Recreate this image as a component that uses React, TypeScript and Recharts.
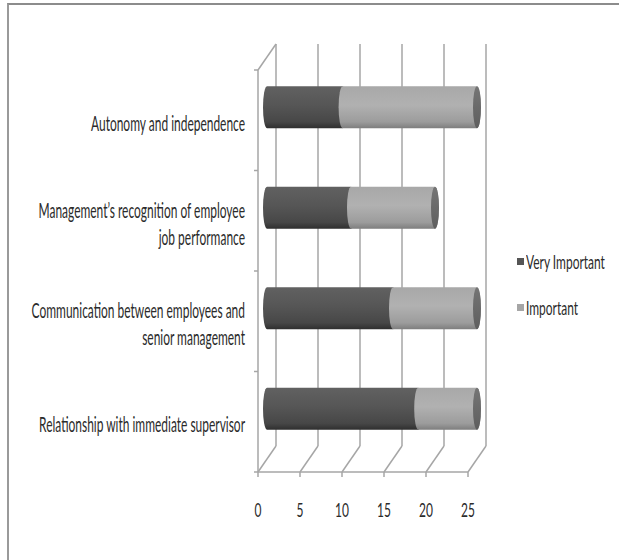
import React from "react";
import { BarChart, Bar, XAxis, YAxis, CartesianGrid } from "recharts";

// Survey categories (line breaks mark where the axis label wraps)
const categories = [
  "Autonomy and independence",
  "Management’s recognition of employee\njob performance",
  "Communication between employees and\nsenior management",
  "Relationship with immediate supervisor",
];
const veryImportant = [9, 10, 15, 18];
const important = [16, 10, 10, 7];
const xTicks = [0, 5, 10, 15, 20, 25];
const seriesNames = ["Very Important", "Important"];

const data = categories.map((name, i) => ({
  name,
  very: veryImportant[i],
  important: important[i],
}));

// 3D look: depth of the back wall, bars sit half way
const DX = 18;
const DY = -26;
const FONT = "Lato, 'Open Sans', sans-serif";
const SQUEEZE = 0.63;
const GRID = "#a6a6a6";
const TEXT = "#2b2b2b";

const SqueezedText = ({ x, y, anchor, size = 19, squeeze = SQUEEZE, children }: any) => (
  <text
    transform={`translate(${x},${y}) scale(${squeeze},1)`}
    x={0}
    y={0}
    textAnchor={anchor}
    dominantBaseline="central"
    fontFamily={FONT}
    fontSize={size}
    fill={TEXT}
  >
    {children}
  </text>
);

const CategoryTick = (props: any) => {
  const { y, payload, index } = props;
  const half = payload.offset ?? 0;
  const lines = String(payload.value).split("\n");
  const lineH = 27;
  const cy = y + 2.5;
  const axisX = props.x + 8;
  return (
    <g>
      {lines.map((ln, i) => (
        <SqueezedText
          key={i}
          x={245}
          y={cy + (i - (lines.length - 1) / 2) * lineH}
          anchor="end"
          size={21}
          squeeze={0.57}
        >
          {ln}
        </SqueezedText>
      ))}
      <line x1={axisX - 4} x2={axisX} y1={y - half} y2={y - half} stroke={GRID} strokeWidth={1.5} />
      {index === categories.length - 1 && (
        <line x1={axisX - 4} x2={axisX} y1={y + half} y2={y + half} stroke={GRID} strokeWidth={1.5} />
      )}
    </g>
  );
};

const ValueTick = (props: any) => {
  const { x, y, payload } = props;
  return (
    <SqueezedText x={x} y={y + 30} anchor="middle">
      {payload.value}
    </SqueezedText>
  );
};

// back wall verticals plus the floor slants; the first one also closes the left wall top
const WallLine = (props: any) => {
  const { x1, y1, y2, index } = props;
  return (
    <g key={`wall-${index}`}>
      <line x1={x1 + DX} x2={x1 + DX} y1={y1 + DY} y2={y2 + DY} stroke={GRID} strokeWidth={1.5} />
      <line x1={x1} x2={x1 + DX} y1={y2} y2={y2 + DY} stroke={GRID} strokeWidth={1.5} />
      {index === 0 && (
        <line x1={x1} x2={x1 + DX} y1={y1} y2={y1 + DY} stroke={GRID} strokeWidth={1.5} />
      )}
    </g>
  );
};

const palette = {
  very: { stops: ["#616161", "#565656", "#474747", "#2f2f2f"], cap: "#3c3c3c" },
  important: { stops: ["#a8a8a8", "#b1b1b1", "#9c9c9c", "#7e7e7e"], cap: "#757575" },
};

const makeCylinder = (key: "very" | "important", withCap: boolean) => (props: any) => {
  const { x, y, width, height, index } = props;
  if (!width || width <= 0) return <g />;
  const bx = x + DX / 2;
  const by = y + DY / 2;
  const rx = 4;
  const ry = height / 2;
  const id = `grad-${key}-${index}`;
  const capId = `cap-${key}-${index}`;
  const c = palette[key];
  const d = `M${bx},${by} L${bx + width},${by} A${rx},${ry} 0 0 1 ${bx + width},${by + height} L${bx},${by + height} A${rx},${ry} 0 0 1 ${bx},${by} Z`;
  return (
    <g>
      <defs>
        <linearGradient id={id} x1="0" y1="0" x2="0" y2="1">
          <stop offset="0" stopColor={c.stops[0]} />
          <stop offset="0.45" stopColor={c.stops[1]} />
          <stop offset="0.85" stopColor={c.stops[2]} />
          <stop offset="1" stopColor={c.stops[3]} />
        </linearGradient>
        <linearGradient id={capId} x1="0" y1="0" x2="0" y2="1">
          <stop offset="0" stopColor={c.cap} />
          <stop offset="1" stopColor="#5e5e5e" />
        </linearGradient>
      </defs>
      <path d={d} fill={`url(#${id})`} />
      {withCap && (
        <ellipse cx={bx + width} cy={by + ry} rx={rx} ry={ry} fill={`url(#${capId})`} />
      )}
    </g>
  );
};

const legendColors = ["#555555", "#a6a6a6"];

const ChartLegend = () => (
  <div style={{ position: "absolute", left: 517, top: 238, fontFamily: FONT, fontSize: 19, color: TEXT }}>
    {seriesNames.map((n, i) => (
      <div key={n} style={{ display: "flex", alignItems: "center", height: 46 }}>
        <span
          style={{
            width: 7,
            height: 7,
            flexShrink: 0,
            background: legendColors[i],
            display: "inline-block",
            marginRight: 2,
          }}
        />
        <span
          style={{
            display: "inline-block",
            transform: `scaleX(${SQUEEZE})`,
            transformOrigin: "left center",
            whiteSpace: "nowrap",
          }}
        >
          {n}
        </span>
      </div>
    ))}
  </div>
);

export default function App() {
  return (
    <div style={{ position: "absolute", left: 0, top: 0, width: 619, height: 560, background: "#fff" }}>
      <div
        style={{
          position: "absolute",
          left: 7,
          top: 3,
          width: 612,
          height: 557,
          borderTop: "2px solid #8c8c8c",
          borderLeft: "2px solid #9a9a9a",
        }}
      />
      <BarChart
        width={619}
        height={560}
        data={data}
        layout="vertical"
        margin={{ top: 70, right: 151, bottom: 0, left: 8 }}
        barCategoryGap="29%"
        style={{ position: "absolute", left: 0, top: 0 }}
      >
        <CartesianGrid horizontal={false} vertical={WallLine} stroke={GRID} />
        <XAxis
          type="number"
          domain={[0, 25]}
          ticks={xTicks}
          height={88}
          axisLine={{ stroke: GRID, strokeWidth: 1.5 }}
          tickLine={{ stroke: GRID, strokeWidth: 1.5 }}
          tickSize={5}
          tick={<ValueTick />}
        />
        <YAxis
          type="category"
          dataKey="name"
          width={250}
          axisLine={{ stroke: GRID, strokeWidth: 1.5 }}
          tickLine={false}
          tick={<CategoryTick />}
          interval={0}
        />
        <Bar dataKey="very" name={seriesNames[0]} stackId="s" shape={makeCylinder("very", false)} isAnimationActive={false} />
        <Bar dataKey="important" name={seriesNames[1]} stackId="s" shape={makeCylinder("important", true)} isAnimationActive={false} />
      </BarChart>
      <ChartLegend />
    </div>
  );
}
